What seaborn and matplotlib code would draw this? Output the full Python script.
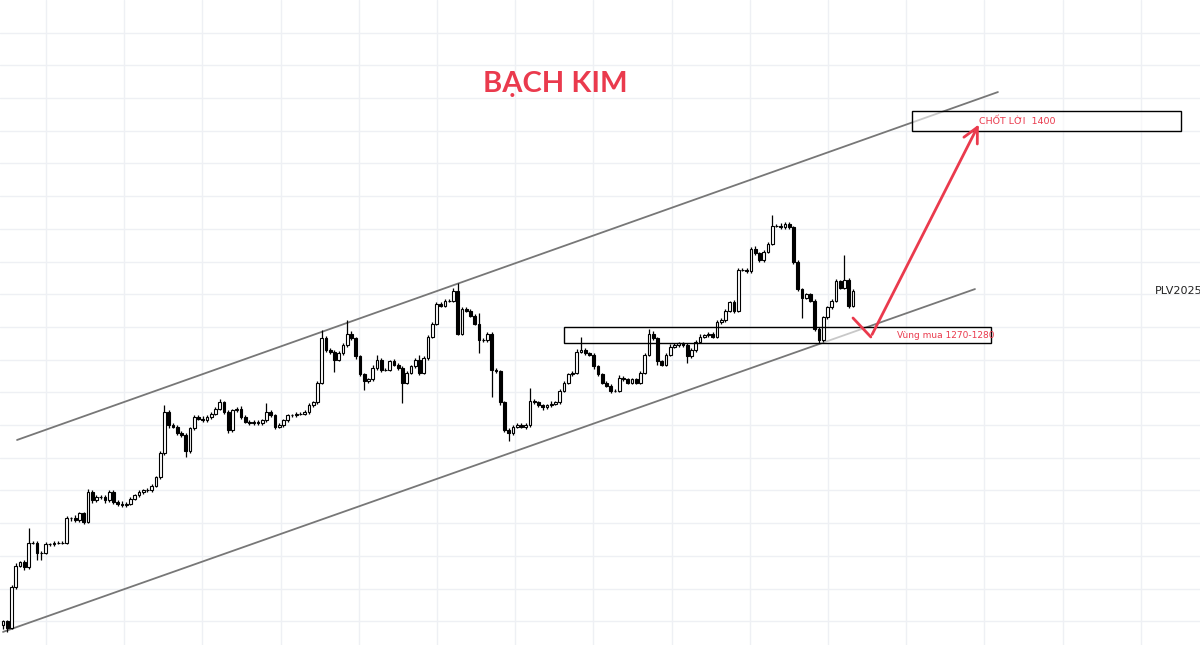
import numpy as np
import pandas as pd
import seaborn as sns
import matplotlib.pyplot as plt
from matplotlib.patches import Rectangle

# giá đóng cửa từng nến
closes = [
    1100, 1096, 1121, 1134, 1136, 1133, 1148, 1148, 1142, 1142, 1147, 1147, 1148, 1148, 1148, 1163, 1163, 1162, 1166, 1161,
    1179, 1174, 1176, 1176, 1174, 1179, 1173, 1172, 1171, 1172, 1175, 1177, 1179, 1180, 1180, 1183, 1188, 1203, 1228, 1220,
    1219, 1215, 1214, 1204, 1218, 1225, 1224, 1223, 1225, 1227, 1230, 1234, 1228, 1217, 1229, 1230, 1225, 1222, 1221, 1222,
    1221, 1223, 1228, 1226, 1219, 1220, 1223, 1226, 1226, 1227, 1227, 1228, 1232, 1234, 1246, 1273, 1266, 1265, 1260, 1264,
    1269, 1276, 1273, 1262, 1251, 1247, 1248, 1255, 1260, 1254, 1254, 1259, 1257, 1255, 1246, 1252, 1256, 1260, 1252, 1261,
    1274, 1282, 1294, 1293, 1296, 1296, 1302, 1276, 1291, 1290, 1287, 1282, 1272, 1272, 1276, 1254, 1253, 1234, 1217, 1215,
    1219, 1220, 1219, 1220, 1235, 1234, 1232, 1231, 1232, 1233, 1234, 1241, 1246, 1251, 1252, 1265, 1266, 1264, 1263, 1256,
    1251, 1246, 1244, 1241, 1241, 1249, 1248, 1246, 1248, 1246, 1252, 1263, 1276, 1273, 1259, 1257, 1263, 1268, 1269, 1270,
    1269, 1262, 1266, 1271, 1274, 1275, 1276, 1274, 1283, 1284, 1290, 1295, 1290, 1315, 1315, 1314, 1328, 1325, 1321, 1326,
    1331, 1342, 1342, 1341, 1343, 1341, 1320, 1303, 1298, 1300, 1296, 1279, 1272, 1286, 1292, 1296, 1308, 1304, 1309, 1293, 1302,
]
first_open = 1098

# độ dài râu trên / dưới
up_wick = [
    1, 1, 1, 1.5, 1, 1.5, 9, 1, 1, 1, 1.5, 1, 1, 1, 1, 1.5, 1, 2, 1, 1,
    2, 1, 1, 1.5, 1, 1, 1, 1, 1.5, 1, 1, 1, 1, 1, 1.5, 1, 1, 1, 4, 1.5,
    1, 1, 1.5, 1, 1, 1, 1, 1.5, 1, 1, 1, 2, 1, 1, 1, 1, 1.5, 1, 1, 1,
    1, 1, 5.5, 1, 1, 1.5, 1, 1, 1, 1, 1, 1, 1.5, 1, 1, 5, 1.5, 1, 1, 1.5,
    1, 8, 1.5, 1, 1, 1, 1, 1.5, 3, 1, 1, 1, 1.5, 1, 1, 1, 1, 1, 3, 1,
    1, 1, 1.5, 1, 1, 1, 2, 5, 1, 1.5, 1, 1, 6.5, 1, 1, 1, 1, 1, 1, 1,
    1, 1, 1.5, 1, 7.5, 1, 1, 1, 1, 1.5, 1, 1, 1, 1, 1, 1.5, 8, 1, 1, 1,
    1, 1, 1, 1, 1, 1.5, 1, 1, 1, 1, 1, 1, 3, 1.5, 1, 1, 1, 1.5, 1, 1,
    1, 1, 1, 1, 1.5, 1, 1, 1, 1, 1.5, 1, 1, 1.5, 1, 1, 1, 1, 1.5, 1, 1,
    1, 6.5, 1, 1.5, 1, 1, 1, 1, 1, 1, 1, 1, 1, 1, 1, 1, 1.5, 1, 15, 1, 1,
]
dn_wick = [
    3, 2.5, 1, 1, 1, 1.5, 1, 1, 4.5, 4.5, 1, 1, 1, 1, 1, 1, 1.5, 1, 1, 1.5,
    1, 1.5, 1, 1, 1.5, 1, 1, 1.5, 1, 1, 1, 1, 1, 1, 1, 1, 1, 1, 1, 1.5,
    1, 1, 1, 3.5, 1, 1, 1, 1, 1, 1, 1, 1, 1.5, 2, 1, 1, 1.5, 1, 1, 1,
    1, 1, 1, 1, 1.5, 1, 1, 1, 1, 1, 1, 1, 1, 1, 1, 1, 1, 1.5, 7.5, 1,
    1, 1, 1, 1.5, 1, 5.5, 1, 1, 1, 1.5, 1, 1, 1, 1, 12.5, 1, 1, 1, 1.5, 1,
    1, 1, 1, 1, 1, 1, 1, 1, 1, 1, 1, 1, 8, 1, 1, 17, 1, 1.5, 1, 5,
    1, 1, 1, 1.5, 1, 1, 1, 1.5, 1, 1, 1, 1, 1, 1, 1, 1, 1, 1, 1, 1.5,
    1, 1, 1, 1.5, 1, 1, 1, 1, 1, 1, 1, 1, 1, 1, 2, 1, 1, 1, 1, 1,
    1, 4, 1, 1, 1, 1, 1, 1, 1, 1, 1, 1, 1.5, 1, 1, 1, 1, 1, 1, 1,
    1, 1, 1, 1, 1, 1, 1.5, 1, 12.5, 1, 1, 1.5, 2, 1, 1, 1, 1, 1, 1, 1.5, 1,
]

# kênh giá (chỉ số nến, giá)
upper_x = [3.3, 234.1]
upper_y = [1210.9, 1423.7]
lower_x = [0.0, 228.7]
lower_y = [1093.5, 1303.2]

buy_zone = (132, 232.5, 1270, 1280)
target_box = (213.9, 277.2, 1400, 1412)
path_x = [200, 204.2]
path_y = [1285.5, 1273.9]
arrow_end = (229.9, 1405.4)

RED = '#ea3a4d'

df = pd.DataFrame({'close': closes, 'up': up_wick, 'dn': dn_wick})
df['open'] = df['close'].shift(1).fillna(first_open)
df['idx'] = np.arange(len(df))
df['top'] = df[['open', 'close']].max(axis=1)
df['bot'] = df[['open', 'close']].min(axis=1)
df['high'] = df['top'] + df['up']
df['low'] = df['bot'] - df['dn']
df['rising'] = df['close'] >= df['open']

sns.set_theme(style='white')
fig = plt.figure(figsize=(12, 6.45), dpi=100)
ax = fig.add_axes([0, 0, 1, 1])

# lưới nền
ax.set_xticks(np.arange(10.1, 290, 18.4))
ax.set_yticks(np.arange(1100, 1480, 20))
ax.grid(True, color='#eef0f4', linewidth=1)
ax.tick_params(length=0, labelbottom=False, labelleft=False)
for s in ax.spines.values():
    s.set_visible(False)

# kênh
sns.lineplot(x=upper_x, y=upper_y, ax=ax, color='#777777', linewidth=1.3, zorder=2)
sns.lineplot(x=lower_x, y=lower_y, ax=ax, color='#777777', linewidth=1.3, zorder=2)

# vùng mua & chốt lời
for x0, x1, y0, y1 in [buy_zone, target_box]:
    ax.add_patch(Rectangle((x0, y0), x1 - x0, y1 - y0, facecolor='white', alpha=0.6,
                           edgecolor='none', zorder=3))
    ax.add_patch(Rectangle((x0, y0), x1 - x0, y1 - y0, facecolor='none',
                           edgecolor='black', linewidth=1.0, zorder=5))

# nến
ax.vlines(df['idx'], df['low'], df['high'], color='black', linewidth=0.9, zorder=4)
ax.bar(df['idx'], df['top'] - df['bot'], bottom=df['bot'], width=0.68,
       color=np.where(df['rising'], 'white', 'black'), edgecolor='black',
       linewidth=0.8, zorder=4)

# mũi tên dự báo
ax.plot(path_x, path_y, color=RED, linewidth=2, zorder=6, solid_capstyle='round')
ax.annotate('', xy=arrow_end, xytext=(path_x[-1], path_y[-1]),
            arrowprops=dict(arrowstyle='->,head_length=0.9,head_width=0.45',
                            color=RED, linewidth=2), zorder=6)

ax.text(129.9, 1428.6, 'BẠCH KIM', color=RED, fontsize=21, fontweight='bold',
        ha='center', va='center', family=['Lato', 'DejaVu Sans'])
ax.text(229.6, 1406, 'CHỐT LỜI  1400', color=RED, fontsize=6.8, ha='left', va='center', zorder=7)
ax.text(210.4, 1274.5, 'Vùng mua 1270-1280', color=RED, fontsize=6.5, ha='left', va='center', zorder=7)
ax.text(271, 1302, 'PLV2025', color='#222222', fontsize=8, ha='left', va='center')

ax.set_xlim(-0.706, 281.65)
ax.set_ylim(1085.5, 1480)

fig.savefig('out.png', dpi=100)
